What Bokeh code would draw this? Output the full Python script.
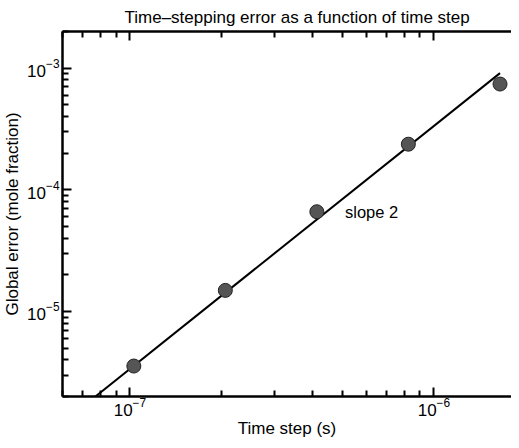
from bokeh.plotting import figure
from bokeh.models import Range1d, LogAxis, FixedTicker
from bokeh.core.properties import value
from bokeh.embed import file_html
from bokeh.resources import INLINE

# Data
time_step = [1.03e-7, 2.06e-7, 4.12e-7, 8.24e-7, 1.65e-6]
global_error = [3.56e-6, 1.49e-5, 6.6e-5, 2.37e-4, 7.4e-4]
fit_step = [7.7e-8, 1.65e-6]
fit_error = [2.0e-6, 9.1e-4]
annot_x = [5.1e-7]
annot_y = [6.6e-5]
annot_text = ["slope 2"]
x_major = [1e-7, 1e-6]
y_major = [1e-5, 1e-4, 1e-3]

FONT = "Liberation Sans"
FS = "17px"

x_minor = [k * 10.0 ** e for e in (-8, -7, -6) for k in range(2, 10)]
y_minor = [k * 10.0 ** e for e in (-6, -5, -4, -3) for k in range(2, 10)]

p = figure(width=511, height=440, x_axis_type="log", y_axis_type="log",
           x_range=Range1d(6.0e-8, 1.8e-6), y_range=Range1d(2e-6, 2e-3),
           output_backend="svg", toolbar_location=None,
           min_border_left=56, min_border_right=0, min_border_top=28, min_border_bottom=40,
           title="Time\u2013stepping error as a function of time step")

p.title.text_font = FONT
p.title.text_font_size = FS
p.title.text_font_style = "normal"
p.title.align = "left"
p.title.offset = 62
p.title.text_color = "black"
p.outline_line_color = None
p.xgrid.visible = False
p.ygrid.visible = False
p.background_fill_color = None
p.border_fill_color = None

def style_axis(ax):
    ax.axis_line_width = 2.5
    ax.axis_line_color = "black"
    ax.major_tick_in = 9
    ax.major_tick_out = 0
    ax.minor_tick_in = 6
    ax.minor_tick_out = 0
    ax.major_tick_line_width = 2
    ax.minor_tick_line_width = 2
    ax.major_tick_line_color = "black"
    ax.minor_tick_line_color = "black"
    ax.major_label_text_font = FONT
    ax.major_label_text_font_size = FS
    ax.major_label_text_color = "black"
    ax.axis_label_text_font = FONT
    ax.axis_label_text_font_size = FS
    ax.axis_label_text_font_style = "normal"
    ax.axis_label_text_color = "black"

xa = p.xaxis[0]
ya = p.yaxis[0]
xa.ticker = FixedTicker(ticks=x_major, minor_ticks=x_minor)
ya.ticker = FixedTicker(ticks=y_major, minor_ticks=y_minor)
style_axis(xa)
style_axis(ya)

xa.axis_label = "Time step (s)"
xa.axis_label_standoff = 0
xa.major_label_standoff = 1
ya.axis_label = "Global error (mole fraction)"
ya.axis_label_standoff = 2
ya.major_label_standoff = 3

top = LogAxis(ticker=FixedTicker(ticks=x_major, minor_ticks=x_minor))
style_axis(top)
top.major_label_text_font_size = "1px"
top.major_label_text_color = None
top.major_label_standoff = 0
p.add_layout(top, "above")

p.line(fit_step, fit_error, line_color="black", line_width=2)
p.scatter(time_step, global_error, size=14, fill_color="#555555",
          line_color="#222222", line_width=1)
p.text(annot_x, annot_y, text=annot_text, text_font=value(FONT),
       text_font_size="16.5px", text_baseline="middle", text_color="black")

open("out.html", "w").write(file_html(p, INLINE))
